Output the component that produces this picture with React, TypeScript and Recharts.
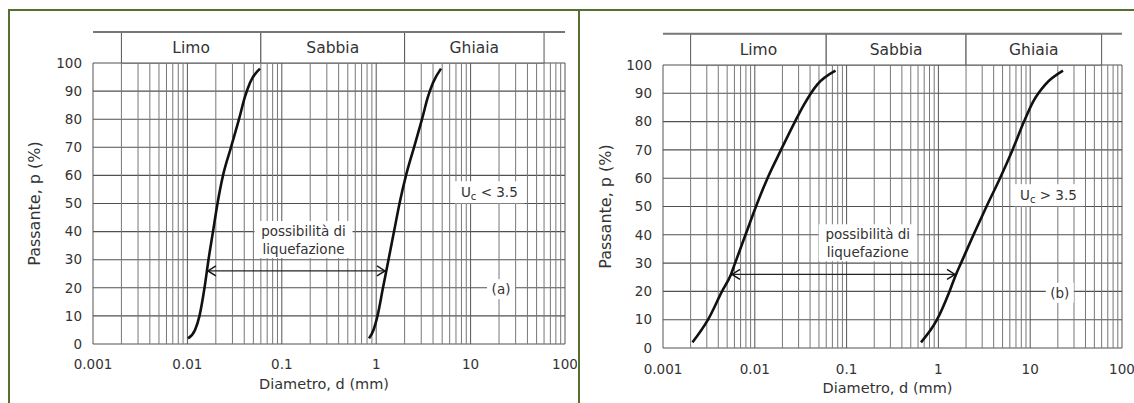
import React from 'react';
import { LineChart, Line, XAxis, YAxis, CartesianGrid, ReferenceLine, ReferenceArea, ReferenceDot } from 'recharts';

const FONT = '"DejaVu Sans", Arial, sans-serif';

const xTicks = [0.001, 0.01, 0.1, 1, 10, 100];
const xTickLabels = ['0.001', '0.01', '0.1', '1', '10', '100'];
const yTicks = [0, 10, 20, 30, 40, 50, 60, 70, 80, 90, 100];
const xGridValues = [
  0.001, 0.002, 0.003, 0.004, 0.005, 0.006, 0.007, 0.008, 0.009,
  0.01, 0.02, 0.03, 0.04, 0.05, 0.06, 0.07, 0.08, 0.09,
  0.1, 0.2, 0.3, 0.4, 0.5, 0.6, 0.7, 0.8, 0.9,
  1, 2, 3, 4, 5, 6, 7, 8, 9,
  10, 20, 30, 40, 50, 60, 70, 80, 90, 100,
];

const soilNames = ['Limo', 'Sabbia', 'Ghiaia'];
const soilBounds = [0.002, 0.06, 2, 60];
const headerTop = 111;

// Panel (a): Uc < 3.5
const curveAFine = [
  { d: 0.01015, p: 2 }, { d: 0.01204, p: 5 }, { d: 0.01343, p: 10 }, { d: 0.01518, p: 20 },
  { d: 0.01673, p: 30 }, { d: 0.01867, p: 40 }, { d: 0.02084, p: 50 }, { d: 0.02384, p: 60 },
  { d: 0.02897, p: 70 }, { d: 0.03521, p: 80 }, { d: 0.04076, p: 88 }, { d: 0.04603, p: 93 },
  { d: 0.05875, p: 98 },
];
const curveACoarse = [
  { d: 0.839, p: 2 }, { d: 0.936, p: 5 }, { d: 1.032, p: 10 }, { d: 1.18, p: 20 },
  { d: 1.35, p: 30 }, { d: 1.544, p: 40 }, { d: 1.766, p: 50 }, { d: 2.069, p: 60 },
  { d: 2.515, p: 70 }, { d: 3.057, p: 80 }, { d: 3.537, p: 88 }, { d: 3.997, p: 93 },
  { d: 4.858, p: 98 },
];
const arrowAEnds = [0.0161, 1.27];

// Panel (b): Uc > 3.5
const curveBFine = [
  { d: 0.002096, p: 2 }, { d: 0.003092, p: 10 }, { d: 0.004392, p: 20 }, { d: 0.0055, p: 26 },
  { d: 0.0061, p: 30 }, { d: 0.007918, p: 40 }, { d: 0.010306, p: 50 }, { d: 0.013748, p: 60 },
  { d: 0.019295, p: 70 }, { d: 0.027414, p: 80 }, { d: 0.034355, p: 86 }, { d: 0.047604, p: 93 },
  { d: 0.0757, p: 98 },
];
const curveBCoarse = [
  { d: 0.6464, p: 2 }, { d: 0.9654, p: 10 }, { d: 1.3211, p: 20 }, { d: 1.5552, p: 26 },
  { d: 1.7629, p: 30 }, { d: 2.4127, p: 40 }, { d: 3.3419, p: 50 }, { d: 4.688, p: 60 },
  { d: 6.416, p: 70 }, { d: 8.561, p: 80 }, { d: 10.73, p: 87 }, { d: 14.5, p: 93 },
  { d: 22.77, p: 98 },
];
const arrowBEnds = [0.0055, 1.5552];

const arrowLevel = 26;
const liqText = ['possibilità di', 'liquefazione'];
const liqAnchor = { d: 0.17, p: 37 };
const ucAnchor = { d: 15.8, p: 54 };
const tagAnchor = { d: 21, p: 19.5 };

const XTitle = (props: any) => {
  const vb = props.viewBox || {};
  return (
    <text x={vb.x + vb.width / 2 - 5} y={vb.y + 40} textAnchor="middle" dominantBaseline="central"
      fontSize={14.5} fill="#333" fontFamily={FONT}>Diametro, d (mm)</text>
  );
};

const YTitle = (props: any) => {
  const vb = props.viewBox || {};
  const cx = props.cxOff;
  const cy = vb.y + vb.height / 2;
  return (
    <text x={cx} y={cy} transform={`rotate(-90 ${cx} ${cy})`} textAnchor="middle" dominantBaseline="central"
      fontSize={16} fill="#333" fontFamily={FONT}>Passante, p (%)</text>
  );
};

const leftHead = (props: any) => (
  <path d={`M${props.cx + 9},${props.cy - 5} L${props.cx + 1},${props.cy} L${props.cx + 9},${props.cy + 5}`}
    stroke="#111" strokeWidth={1.4} fill="none" />
);
const rightHead = (props: any) => (
  <path d={`M${props.cx - 9},${props.cy - 5} L${props.cx - 1},${props.cy} L${props.cx - 9},${props.cy + 5}`}
    stroke="#111" strokeWidth={1.4} fill="none" />
);

const liqShape = (props: any) => (
  <g>
    <rect x={props.cx - 49} y={props.cy - 19} width={98} height={37} fill="#fff" />
    <text x={props.cx} y={props.cy - 9} textAnchor="middle" dominantBaseline="central" fontSize={13.5}
      fill="#333" fontFamily={FONT}>{liqText[0]}</text>
    <text x={props.cx} y={props.cy + 9} textAnchor="middle" dominantBaseline="central" fontSize={13.5}
      fill="#333" fontFamily={FONT}>{liqText[1]}</text>
  </g>
);

const makeUcShape = (sign: string) => (props: any) => (
  <g>
    <rect x={props.cx - 35} y={props.cy - 11} width={70} height={22} fill="#fff" />
    <text x={props.cx} y={props.cy} textAnchor="middle" dominantBaseline="central" fontSize={13.5}
      fill="#333" fontFamily={FONT}>
      U<tspan fontSize={10} dy={4}>c</tspan><tspan dy={-4}>{` ${sign} 3.5`}</tspan>
    </text>
  </g>
);

const makeTagShape = (tag: string) => (props: any) => (
  <g>
    <rect x={props.cx - 14} y={props.cy - 10} width={28} height={20} fill="#fff" />
    <text x={props.cx} y={props.cy} textAnchor="middle" dominantBaseline="central" fontSize={13.5}
      fill="#333" fontFamily={FONT}>{tag}</text>
  </g>
);

type PanelProps = {
  width: number; plotLeft: number; plotRight: number; plotTop: number; plotBottom: number;
  fine: any[]; coarse: any[]; arrowEnds: number[]; ucSign: string; tag: string;
  xTickMargin: number; yTitleX: number;
};

const Panel = (pp: PanelProps) => (
  <LineChart width={pp.width} height={403}
    margin={{ top: pp.plotTop, right: pp.width - pp.plotRight, bottom: 0, left: 0 }}>
    <CartesianGrid vertical={false} stroke="#505050" strokeWidth={1.1} />
    <XAxis type="number" dataKey="d" scale="log" domain={[0.001, 100]} allowDataOverflow ticks={xTicks}
      interval={0} tickFormatter={(v: number) => { const i = xTicks.indexOf(v); return i >= 0 ? xTickLabels[i] : String(v); }}
      height={403 - pp.plotBottom} axisLine={false} tickLine={false} tickSize={0} tickMargin={pp.xTickMargin}
      tick={{ fontSize: 13.5, fill: '#333', fontFamily: FONT }} label={<XTitle />} />
    <YAxis type="number" domain={[0, 100]} ticks={yTicks} interval={0} allowDataOverflow width={pp.plotLeft}
      axisLine={false} tickLine={false} tickSize={0} tickMargin={11}
      tick={{ fontSize: 13.5, fill: '#333', fontFamily: FONT }} label={<YTitle cxOff={pp.yTitleX} />} />
    {xGridValues.map((v) => (
      <ReferenceLine key={`g${v}`} x={v} stroke={xTicks.indexOf(v) >= 0 ? '#555' : '#777'} strokeWidth={1} ifOverflow="visible" />
    ))}
    {soilNames.map((n, i) => (
      <ReferenceArea key={n} x1={soilBounds[i]} x2={soilBounds[i + 1]} y1={100} y2={headerTop}
        fill="#fff" fillOpacity={1} stroke="#555" strokeWidth={1} ifOverflow="visible"
        label={{ value: n, position: 'center', fontSize: 15.5, fill: '#333', fontFamily: FONT }} />
    ))}
    <ReferenceLine segment={[{ x: 0.001, y: headerTop }, { x: 100, y: headerTop }]} stroke="#777" strokeWidth={2} ifOverflow="visible" />
    <ReferenceLine segment={[{ x: pp.arrowEnds[0], y: arrowLevel }, { x: pp.arrowEnds[1], y: arrowLevel }]} stroke="#222" strokeWidth={1.2} ifOverflow="visible" />
    <Line data={pp.fine} dataKey="p" type="monotone" stroke="#111" strokeWidth={2.6} dot={false} isAnimationActive={false} />
    <Line data={pp.coarse} dataKey="p" type="monotone" stroke="#111" strokeWidth={2.6} dot={false} isAnimationActive={false} />
    <ReferenceDot x={pp.arrowEnds[0]} y={arrowLevel} r={0} shape={leftHead} ifOverflow="visible" />
    <ReferenceDot x={pp.arrowEnds[1]} y={arrowLevel} r={0} shape={rightHead} ifOverflow="visible" />
    <ReferenceDot x={liqAnchor.d} y={liqAnchor.p} r={0} shape={liqShape} ifOverflow="visible" />
    <ReferenceDot x={ucAnchor.d} y={ucAnchor.p} r={0} shape={makeUcShape(pp.ucSign)} ifOverflow="visible" />
    <ReferenceDot x={tagAnchor.d} y={tagAnchor.p} r={0} shape={makeTagShape(pp.tag)} ifOverflow="visible" />
  </LineChart>
);

export default function App() {
  const border = '#55702f';
  return (
    <div style={{ position: 'absolute', left: 0, top: 0, width: 1134, height: 403, overflow: 'hidden', background: '#fff' }}>
      <div style={{ position: 'absolute', left: 0, top: 0 }}>
        <Panel width={577} plotLeft={93} plotRight={565} plotTop={63} plotBottom={344}
          fine={curveAFine} coarse={curveACoarse} arrowEnds={arrowAEnds} ucSign="<" tag="(a)"
          xTickMargin={15} yTitleX={34} />
      </div>
      <div style={{ position: 'absolute', left: 577, top: 0 }}>
        <Panel width={557} plotLeft={86} plotRight={545} plotTop={65} plotBottom={348}
          fine={curveBFine} coarse={curveBCoarse} arrowEnds={arrowBEnds} ucSign=">" tag="(b)"
          xTickMargin={16} yTitleX={28} />
      </div>
      <div style={{ position: 'absolute', left: 8, top: 9, width: 568, height: 420, borderLeft: `2px solid ${border}`, borderTop: `2px solid ${border}`, borderRight: `2px solid ${border}` }} />
      <div style={{ position: 'absolute', left: 576, top: 9, width: 600, height: 420, borderTop: `2px solid ${border}` }} />
    </div>
  );
}
